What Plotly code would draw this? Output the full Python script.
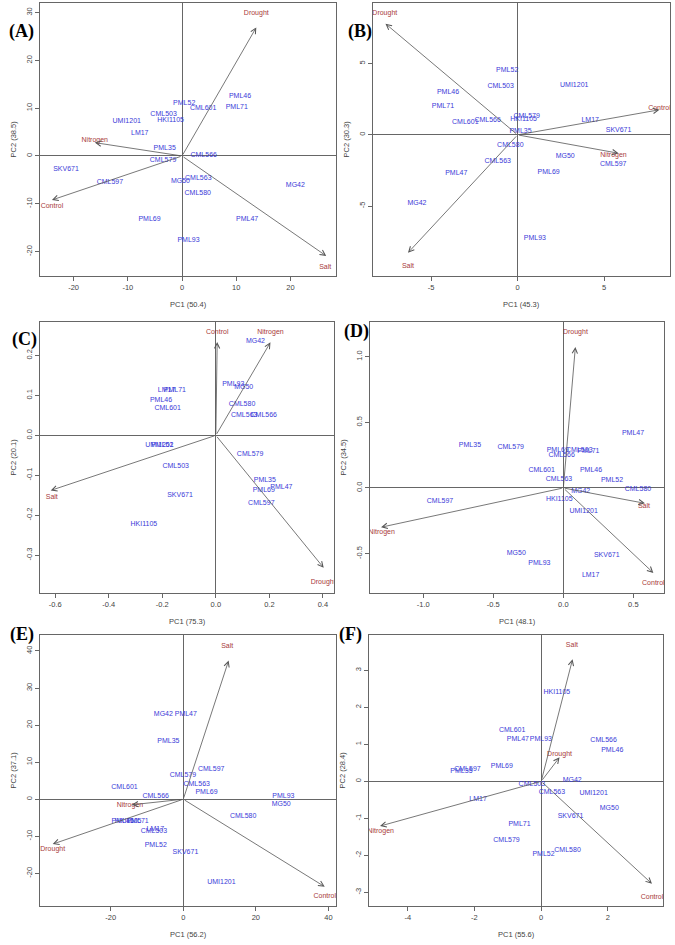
import plotly.graph_objects as go

W, H = 675, 945

genotypes = ["PML46", "PML71", "PML52", "CML601", "CML503", "HKI1105", "UMI1201",
             "LM17", "PML35", "CML566", "CML579", "SKV671", "CML597", "MG50",
             "CML563", "MG42", "CML580", "PML69", "PML47", "PML93"]

# ---------- Panel A ----------
A_pc1 = [10.7, 10.1, 0.4, 3.9, -3.4, -2.1, -10.2, -7.8, -3.2, 4.0, -3.5, -21.4, -13.3, -0.3, 3.0, 20.9, 2.9, -6.0, 12.0, 1.2]
A_pc2 = [12.6, 10.3, 11.0, 10.0, 8.7, 7.5, 7.2, 4.7, 1.7, 0.1, -0.8, -2.7, -5.5, -5.2, -4.7, -6.1, -7.8, -13.3, -13.3, -17.6]
A_traits = ["Drought", "Salt", "Control", "Nitrogen"]
A_vec1 = [13.7, 26.6, -24.0, -16.1]
A_vec2 = [26.9, -20.9, -9.2, 2.8]
A_lab1 = [13.7, 26.4, -24.0, -16.1]
A_lab2 = [29.9, -23.2, -10.5, 3.2]
A_xticks = [-20, -10, 0, 10, 20]
A_xticktext = ["-20", "-10", "0", "10", "20"]
A_yticks = [-20, -10, 0, 10, 20, 30]
A_yticktext = ["-20", "-10", "0", "10", "20", "30"]

# ---------- Panel B ----------
B_pc1 = [-4.02, -4.31, -0.60, -3.02, -0.98, 0.35, 3.27, 4.19, 0.17, -1.73, 0.52, 5.83, 5.52, 2.75, -1.15, -5.81, -0.42, 1.79, -3.54, 1.00]
B_pc2 = [2.97, 1.99, 4.52, 0.91, 3.44, 1.12, 3.47, 1.03, 0.26, 1.03, 1.29, 0.33, -2.08, -1.52, -1.87, -4.82, -0.70, -2.60, -2.67, -7.24]
B_traits = ["Drought", "Salt", "Control", "Nitrogen"]
B_vec1 = [-7.63, -6.33, 8.19, 5.83]
B_vec2 = [7.80, -8.27, 1.76, -1.29]
B_lab1 = [-7.67, -6.33, 8.19, 5.54]
B_lab2 = [8.55, -9.25, 1.87, -1.43]
B_xticks = [-5, 0, 5]
B_xticktext = ["-5", "0", "5"]
B_yticks = [-5, 0, 5]
B_yticktext = ["-5", "0", "5"]

# ---------- Panel C ----------
C_pc1 = [-0.205, -0.153, -0.200, -0.180, -0.150, -0.269, -0.211, -0.184, 0.183, 0.179, 0.128, -0.134, 0.170, 0.104, 0.106, 0.148, 0.098, 0.179, 0.245, 0.065]
C_pc2 = [0.089, 0.114, -0.025, 0.068, -0.078, -0.223, -0.025, 0.114, -0.112, 0.050, -0.048, -0.150, -0.169, 0.120, 0.051, 0.236, 0.077, -0.138, -0.129, 0.127]
C_traits = ["Drought", "Salt", "Control", "Nitrogen"]
C_vec1 = [0.403, -0.617, 0.005, 0.204]
C_vec2 = [-0.332, -0.138, 0.234, 0.233]
C_lab1 = [0.401, -0.613, 0.005, 0.204]
C_lab2 = [-0.368, -0.155, 0.259, 0.259]
C_xticks = [-0.6, -0.4, -0.2, 0.0, 0.2, 0.4]
C_xticktext = ["-0.6", "-0.4", "-0.2", "0.0", "0.2", "0.4"]
C_yticks = [-0.3, -0.2, -0.1, 0.0, 0.1, 0.2]
C_yticktext = ["-0.3", "-0.2", "-0.1", "0.0", "0.1", "0.2"]

# ---------- Panel D ----------
D_pc1 = [0.198, 0.179, 0.348, -0.155, 0.114, -0.029, 0.145, 0.195, -0.667, -0.012, -0.376, 0.310, -0.881, -0.336, -0.031, 0.124, 0.533, -0.040, 0.498, -0.171]
D_pc2 = [0.137, 0.279, 0.058, 0.137, 0.284, -0.084, -0.175, -0.662, 0.327, 0.246, 0.312, -0.515, -0.102, -0.495, 0.066, -0.023, -0.010, 0.284, 0.419, -0.571]
D_traits = ["Drought", "Salt", "Control", "Nitrogen"]
D_vec1 = [0.086, 0.583, 0.643, -1.302]
D_vec2 = [1.074, -0.117, -0.647, -0.299]
D_lab1 = [0.086, 0.576, 0.643, -1.298]
D_lab2 = [1.188, -0.142, -0.726, -0.340]
D_xticks = [-1.0, -0.5, 0.0, 0.5]
D_xticktext = ["-1.0", "-0.5", "0.0", "0.5"]
D_yticks = [-0.5, 0.0, 0.5, 1.0]
D_yticktext = ["-0.5", "0.0", "0.5", "1.0"]

# ---------- Panel E ----------
E_pc1 = [-16.7, -12.6, -7.6, -16.2, -8.1, -15.2, 10.5, -7.7, -4.1, -7.6, -0.1, 0.6, 7.7, 27.0, 3.7, -5.5, 16.5, 6.4, 0.7, 27.6]
E_pc2 = [-5.85, -5.85, -12.4, 3.3, -8.7, -5.85, -22.4, -8.1, 15.7, 0.8, 6.5, -14.3, 8.1, -1.4, 4.0, 23.0, -4.5, 2.0, 23.0, 0.7]
E_traits = ["Salt", "Control", "Drought", "Nitrogen"]
E_vec1 = [12.5, 39.0, -36.0, -14.2]
E_vec2 = [37.4, -23.6, -12.1, -1.5]
E_lab1 = [12.1, 39.0, -36.0, -14.7]
E_lab2 = [41.4, -26.3, -13.5, -1.7]
E_xticks = [-20, 0, 20, 40]
E_xticktext = ["-20", "0", "20", "40"]
E_yticks = [-20, -10, 0, 10, 20, 30, 40]
E_yticktext = ["-20", "-10", "0", "10", "20", "30", "40"]

# ---------- Panel F ----------
F_pc1 = [2.13, -0.65, 0.07, -0.87, -0.28, 0.47, 1.57, -1.89, -2.39, 1.87, -1.04, 0.88, -2.21, 2.04, 0.32, 0.93, 0.79, -1.18, -0.70, -0.01]
F_pc2 = [0.85, -1.16, -1.97, 1.37, -0.08, 2.40, -0.32, -0.48, 0.27, 1.12, -1.58, -0.95, 0.32, -0.73, -0.30, 0.03, -1.86, 0.42, 1.14, 1.14]
F_traits = ["Salt", "Drought", "Control", "Nitrogen"]
F_vec1 = [0.94, 0.55, 3.32, -4.83]
F_vec2 = [3.30, 0.65, -2.77, -1.21]
F_lab1 = [0.92, 0.55, 3.32, -4.81]
F_lab2 = [3.67, 0.74, -3.12, -1.34]
F_xticks = [-4, -2, 0, 2]
F_xticktext = ["-4", "-2", "0", "2"]
F_yticks = [-3, -2, -1, 0, 1, 2, 3]
F_yticktext = ["-3", "-2", "-1", "0", "1", "2", "3"]

# ---------- layout config (pixels) ----------
panels = [
    dict(tag="(A)", pc1=A_pc1, pc2=A_pc2, tr=A_traits, v1=A_vec1, v2=A_vec2, l1=A_lab1, l2=A_lab2,
         xt=A_xticks, xtt=A_xticktext, yt=A_yticks, ytt=A_yticktext, xtitle="PC1 (50.4)", ytitle="PC2 (38.5)",
         box=(40, 3, 336, 276), xr=(-26.2, 28.4), yr=(-25.1, 32.0), tagxy=(22, 31)),
    dict(tag="(B)", pc1=B_pc1, pc2=B_pc2, tr=B_traits, v1=B_vec1, v2=B_vec2, l1=B_lab1, l2=B_lab2,
         xt=B_xticks, xtt=B_xticktext, yt=B_yticks, ytt=B_yticktext, xtitle="PC1 (45.3)", ytitle="PC2 (30.3)",
         box=(373, 3, 670, 276), xr=(-8.35, 8.8), yr=(-9.9, 9.25), tagxy=(360, 31)),
    dict(tag="(C)", pc1=C_pc1, pc2=C_pc2, tr=C_traits, v1=C_vec1, v2=C_vec2, l1=C_lab1, l2=C_lab2,
         xt=C_xticks, xtt=C_xticktext, yt=C_yticks, ytt=C_yticktext, xtitle="PC1 (75.3)", ytitle="PC2 (20.1)",
         box=(40, 322, 334, 593), xr=(-0.657, 0.4415), yr=(-0.395, 0.284), tagxy=(24, 339)),
    dict(tag="(D)", pc1=D_pc1, pc2=D_pc2, tr=D_traits, v1=D_vec1, v2=D_vec2, l1=D_lab1, l2=D_lab2,
         xt=D_xticks, xtt=D_xticktext, yt=D_yticks, ytt=D_yticktext, xtitle="PC1 (48.1)", ytitle="PC2 (34.5)",
         box=(370, 322, 664, 593), xr=(-1.381, 0.719), yr=(-0.8, 1.264), tagxy=(356, 332)),
    dict(tag="(E)", pc1=E_pc1, pc2=E_pc2, tr=E_traits, v1=E_vec1, v2=E_vec2, l1=E_lab1, l2=E_lab2,
         xt=E_xticks, xtt=E_xticktext, yt=E_yticks, ytt=E_yticktext, xtitle="PC1 (56.2)", ytitle="PC2 (37.1)",
         box=(40, 635, 336, 906), xr=(-39.5, 42.1), yr=(-28.8, 44.3), tagxy=(22, 634)),
    dict(tag="(F)", pc1=F_pc1, pc2=F_pc2, tr=F_traits, v1=F_vec1, v2=F_vec2, l1=F_lab1, l2=F_lab2,
         xt=F_xticks, xtt=F_xticktext, yt=F_yticks, ytt=F_yticktext, xtitle="PC1 (55.6)", ytitle="PC2 (28.4)",
         box=(369, 635, 663, 906), xr=(-5.16, 3.65), yr=(-3.37, 3.955), tagxy=(350, 634)),
]

SANS = "Liberation Sans, Arial, sans-serif"
SERIF = "Liberation Serif, Times New Roman, serif"
BLUE = "#3a3ad8"
RED = "#a83a3a"
ARROW = "#555555"
AXIS = "#666666"
TICKC = "#444444"

fig = go.Figure()
layout = dict(width=W, height=H, margin=dict(l=0, r=0, t=0, b=0),
              paper_bgcolor="white", plot_bgcolor="white", showlegend=False)
annotations = []

for i, p in enumerate(panels, 1):
    xa = "x" if i == 1 else f"x{i}"
    ya = "y" if i == 1 else f"y{i}"
    xname = "xaxis" if i == 1 else f"xaxis{i}"
    yname = "yaxis" if i == 1 else f"yaxis{i}"
    L, T, R, B = p["box"]

    fig.add_trace(go.Scatter(x=p["pc1"], y=p["pc2"], text=genotypes, mode="text",
                             textfont=dict(size=7, color=BLUE, family=SANS),
                             xaxis=xa, yaxis=ya, hoverinfo="skip"))
    fig.add_trace(go.Scatter(x=p["l1"], y=p["l2"], text=p["tr"], mode="text",
                             textfont=dict(size=7, color=RED, family=SANS),
                             xaxis=xa, yaxis=ya, hoverinfo="skip"))
    for vx, vy in zip(p["v1"], p["v2"]):
        annotations.append(dict(x=vx, y=vy, ax=0, ay=0, xref=xa, yref=ya, axref=xa, ayref=ya,
                                text="", showarrow=True, arrowhead=5, arrowsize=1.3,
                                arrowwidth=0.8, arrowcolor=ARROW, standoff=0))

    common = dict(showgrid=False, zeroline=True, zerolinecolor=AXIS, zerolinewidth=1,
                  showline=True, mirror=True, linecolor=AXIS, linewidth=1,
                  ticks="outside", ticklen=4, tickcolor=AXIS, tickwidth=1,
                  tickfont=dict(size=7.5, color=TICKC, family=SANS), fixedrange=True)
    layout[xname] = dict(common, domain=[L / W, R / W], range=list(p["xr"]), anchor=ya,
                         tickmode="array", tickvals=p["xt"], ticktext=p["xtt"])
    layout[yname] = dict(common, domain=[1 - B / H, 1 - T / H], range=list(p["yr"]), anchor=xa,
                         tickmode="array", tickvals=p["yt"], ticktext=p["ytt"], tickangle=-90)

    annotations.append(dict(x=(L + R) / 2 / W, y=1 - (B + 28) / H, xref="paper", yref="paper",
                            text=p["xtitle"], showarrow=False, xanchor="center", yanchor="middle",
                            font=dict(size=7.5, color=TICKC, family=SANS)))
    annotations.append(dict(x=(L - 27) / W, y=1 - (T + B) / 2 / H, xref="paper", yref="paper",
                            text=p["ytitle"], showarrow=False, xanchor="center", yanchor="middle",
                            textangle=-90, font=dict(size=7.5, color=TICKC, family=SANS)))
    tx, ty = p["tagxy"]
    annotations.append(dict(x=tx / W, y=1 - ty / H, xref="paper", yref="paper",
                            text="<b>" + p["tag"] + "</b>", showarrow=False,
                            xanchor="center", yanchor="middle",
                            font=dict(size=18, color="black", family=SERIF)))

layout["annotations"] = annotations
fig.update_layout(**layout)
fig.write_html("out.html", config={"displayModeBar": False},
               post_script="document.body.style.margin='0';document.body.style.overflow='hidden';")
